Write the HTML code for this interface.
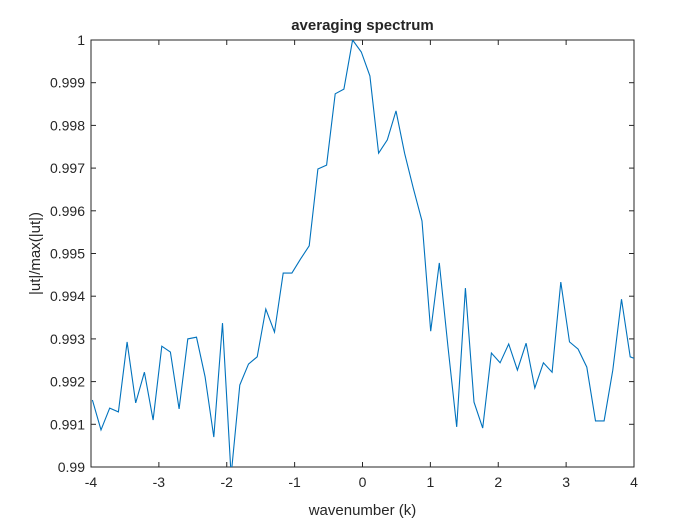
<!DOCTYPE html>
<html><head><meta charset="utf-8"><style>
body{margin:0;background:#fff;}
svg text{font-family:"Liberation Sans",Arial,sans-serif;fill:#262626;}
</style></head><body>
<svg id="chart" width="700" height="525">
<rect width="700" height="525" fill="#fff"/>
<g id="axes"></g>
<g id="plot"></g>
</svg>
<script>
const yValues=[0.99157,0.99087,0.99138,0.99129,0.99293,0.99150,0.99222,0.99110,0.99283,0.99269,0.99136,0.99300,0.99304,0.99211,0.99070,0.99337,0.9898,0.99192,0.99241,0.99258,0.99370,0.99316,0.99454,0.99454,0.99487,0.99518,0.99698,0.99707,0.99874,0.99885,1.0,0.99972,0.99916,0.99735,0.99766,0.99834,0.99735,0.99653,0.99576,0.99318,0.99478,0.99281,0.99094,0.99419,0.99152,0.99091,0.99267,0.99244,0.99288,0.99227,0.99290,0.99185,0.99244,0.99222,0.99433,0.99293,0.99276,0.99234,0.99108,0.99108,0.99227,0.99393,0.99258,0.9925];
const xStart=-3.98, xStep=0.1278;
const xTicks=[-4,-3,-2,-1,0,1,2,3,4];
const yTicks=[0.99,0.991,0.992,0.993,0.994,0.995,0.996,0.997,0.998,0.999,1];
const yTickLabels=['0.99','0.991','0.992','0.993','0.994','0.995','0.996','0.997','0.998','0.999','1'];
const L=91,R=634,T=40,B=467;
const sx=v=>L+(v+4)/8*(R-L);
const sy=v=>B-(v-0.99)/0.01*(B-T);
const NS='http://www.w3.org/2000/svg';
const ax=document.getElementById('axes'), pl=document.getElementById('plot');
function mk(tag,attrs,parent){const e=document.createElementNS(NS,tag);for(const k in attrs)e.setAttribute(k,attrs[k]);parent.appendChild(e);return e;}
const box=mk('rect',{x:L,y:T,width:R-L,height:B-T,fill:'#fff',stroke:'#262626','stroke-width':1},ax);


xTicks.forEach(t=>{const x=sx(t);
 mk('line',{x1:x,x2:x,y1:B,y2:B-5,stroke:'#262626'},ax);
 mk('line',{x1:x,x2:x,y1:T,y2:T+5,stroke:'#262626'},ax);
 const tx=mk('text',{x:x,y:B+20,'text-anchor':'middle','font-size':14},ax);tx.textContent=t;
 
 
});
yTicks.forEach((t,i)=>{const y=sy(t);
 mk('line',{x1:L,x2:L+5,y1:y,y2:y,stroke:'#262626'},ax);
 mk('line',{x1:R,x2:R-5,y1:y,y2:y,stroke:'#262626'},ax);
 const tx=mk('text',{x:L-6,y:y+5,'text-anchor':'end','font-size':14},ax);tx.textContent=yTickLabels[i];
 
 
});
const title=mk('text',{x:(L+R)/2,y:30,'text-anchor':'middle','font-size':15,'font-weight':'bold'},ax);title.textContent='averaging spectrum';


const xl=mk('text',{x:(L+R)/2,y:515,'text-anchor':'middle','font-size':15},ax);xl.textContent='wavenumber (k)';


const yl=mk('text',{x:0,y:0,'text-anchor':'middle','font-size':15,transform:'translate(40,'+((T+B)/2)+') rotate(-90)'},ax);yl.textContent='|ut|/max(|ut|)';


const cp=mk('clipPath',{id:'clip'},pl);mk('rect',{x:L,y:T,width:R-L,height:B-T},cp);
const pts=yValues.map((v,i)=>sx(xStart+i*xStep).toFixed(1)+','+sy(v).toFixed(1)).join(' ');
const line=mk('polyline',{points:pts,fill:'none',stroke:'#0072BD','stroke-width':1.1,'clip-path':'url(#clip)'},pl);


</script>
</body></html>
